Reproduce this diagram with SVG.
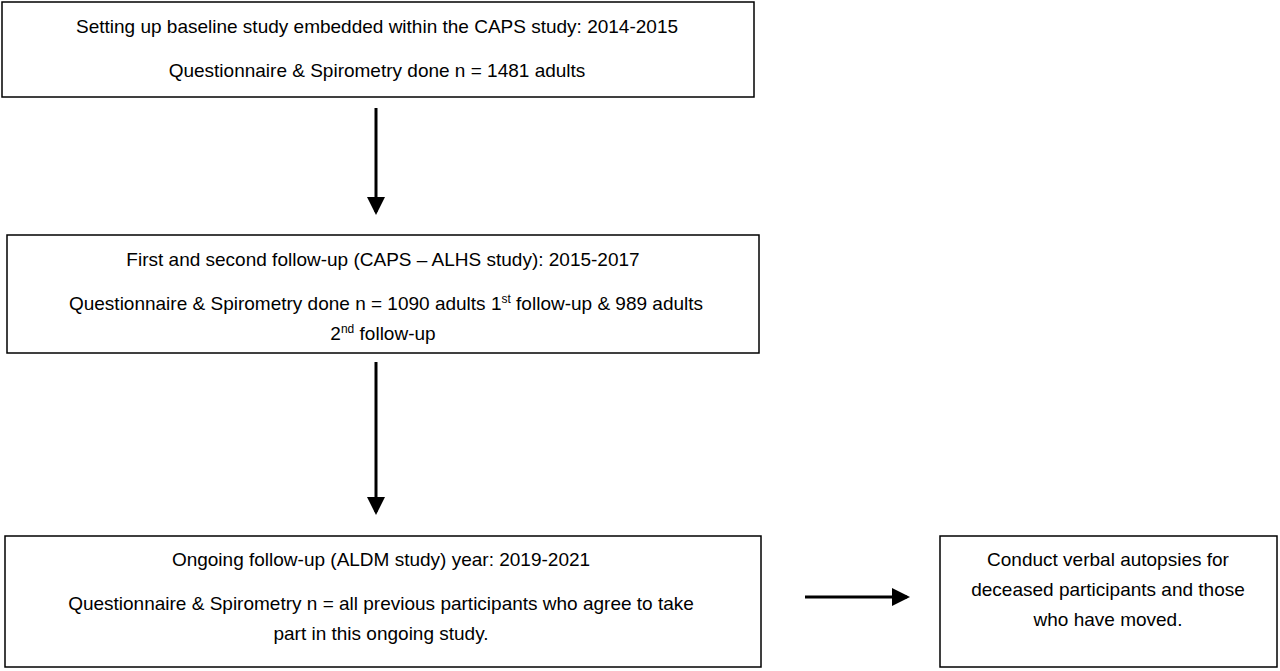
<svg xmlns="http://www.w3.org/2000/svg" width="1280" height="671" viewBox="0 0 1280 671">
<defs>
<style>
.box{fill:#fff;stroke:#000;stroke-width:1.5}
text{font-family:"Liberation Sans",Arial,sans-serif;font-size:19px;fill:#000;text-anchor:middle}
.ln{stroke:#000;stroke-width:3;fill:none}
</style>
<marker id="ah" markerWidth="6" markerHeight="6" refX="5" refY="3" orient="auto" markerUnits="strokeWidth">
<path d="M0,0 L6,3 L0,6 Z" fill="#000"/>
</marker>
</defs>
<rect width="1280" height="671" fill="#fff"/>
<g id="n1">
<rect class="box" x="2" y="2" width="752" height="95"/>
<text x="377" y="33">Setting up baseline study embedded within the CAPS study: 2014-2015</text>
<text x="377" y="77">Questionnaire &amp; Spirometry done n = 1481 adults</text>
</g>
<g id="n2">
<rect class="box" x="7" y="235" width="752" height="118"/>
<text x="383" y="266">First and second follow-up (CAPS – ALHS study): 2015-2017</text>
<text x="386" y="310">Questionnaire &amp; Spirometry done n = 1090 adults 1<tspan font-size="12" dy="-7">st</tspan><tspan dy="7"> follow-up &amp; 989 adults</tspan></text>
<text x="383" y="340">2<tspan font-size="12" dy="-7">nd</tspan><tspan dy="7"> follow-up</tspan></text>
</g>
<g id="n3">
<rect class="box" x="5" y="536" width="756" height="131"/>
<text x="381" y="566">Ongoing follow-up (ALDM study) year: 2019-2021</text>
<text x="381" y="610">Questionnaire &amp; Spirometry n = all previous participants who agree to take</text>
<text x="381" y="640">part in this ongoing study.</text>
</g>
<g id="n4">
<rect class="box" x="940" y="536" width="337" height="131"/>
<text x="1108" y="566">Conduct verbal autopsies for</text>
<text x="1108" y="596">deceased participants and those</text>
<text x="1108" y="626">who have moved.</text>
</g>
<g id="connectors">
<line class="ln" x1="376" y1="108" x2="376" y2="212" marker-end="url(#ah)"/>
<line class="ln" x1="376" y1="362" x2="376" y2="512" marker-end="url(#ah)"/>
<line class="ln" x1="805" y1="597" x2="907" y2="597" marker-end="url(#ah)"/>
</g>
</svg>
